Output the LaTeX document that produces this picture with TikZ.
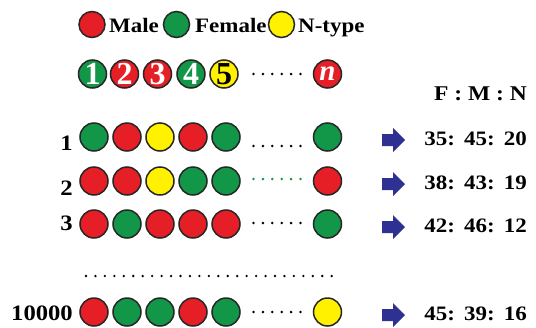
\documentclass[tikz,border=0pt]{standalone}
\usepackage{fontspec}
\setmainfont{Liberation Serif}[FakeStretch=1.12]
\newfontfamily\numfont{Liberation Serif}
\definecolor{mred}{HTML}{E61E25}
\definecolor{mgreen}{HTML}{129647}
\definecolor{myellow}{HTML}{FFF100}
\definecolor{arrowblue}{HTML}{2E3192}
\tikzset{
  ball/.style={circle, draw=black!85, line width=1.5pt, minimum size=28pt, inner sep=0pt},
  R/.style={ball, fill=mred},
  G/.style={ball, fill=mgreen},
  Y/.style={ball, fill=myellow},
  lbl/.style={font=\fontsize{20.5}{20.5}\selectfont\bfseries, inner sep=0pt},
  rowlbl/.style={font=\fontsize{22}{22}\selectfont\bfseries, inner sep=0pt},
  numtxt/.style={font=\numfont\fontsize{32}{32}\selectfont\bfseries},
}
\begin{document}
\begin{tikzpicture}[x=1pt,y=-1pt]
\useasboundingbox (0,0) rectangle (536,327);
% legend
\node[R, minimum size=26pt] (lm) at (92,24.5) {};
\node[lbl, anchor=base west] (tm) at (109,32) {Male};
\node[G, minimum size=26pt] (lf) at (176.5,24.5) {};
\node[lbl, anchor=base west] (tf) at (195,32) {Female};
\node[Y, minimum size=26pt] (ly) at (281.5,24.5) {};
\node[lbl, anchor=base west] (tn) at (298,32) {N-type};
% numbered row
\node[G, numtxt, text=white] (n1) at (92.5,74) {1};
\node[R, numtxt, text=white] (n2) at (124.5,74) {2};
\node[R, numtxt, text=white] (n3) at (157.5,74) {3};
\node[G, numtxt, text=white] (n4) at (191,74) {4};
\node[Y, numtxt, text=black] (n5) at (224,74) {5};
\node[R, numtxt, text=white, font=\numfont\fontsize{29}{29}\selectfont\bfseries\itshape] (nn) at (327.5,74) {n};
\foreach \i in {0,...,5} \fill (253.5+9.4*\i,74) circle (1.4);
% header
\node[lbl, font=\fontsize{21}{21}\selectfont\bfseries, anchor=base east] (hdr) at (527,100) {F\ :\ M\ :\ N};
% rows
\foreach \nm/\y/\cols/\lab/\lb/\dy/\dc/\ratio in {
  r1/137/{G,R,Y,R,G,G}/1/150/146/black/{35:\ \,45:\ \,20},
  r2/181/{R,R,Y,G,G,R}/2/195/179/mgreen/{38:\ \,43:\ \,19},
  r3/224/{R,G,R,R,R,G}/3/230/223/black/{42:\ \,46:\ \,12},
  r4/312/{R,G,G,R,G,Y}/10000/320/312/black/{45:\ \,39:\ \,16}}{
  \foreach \c [count=\k] in \cols {
    \pgfmathsetmacro{\xx}{\k<6 ? 94+33*(\k-1) : 327.5}
    \node[\c] (\nm c\k) at (\xx,\y) {};
  }
  \node[rowlbl, anchor=base east] (\nm l) at (73,\lb) {\lab};
  \foreach \i in {0,...,5} \fill[\dc] (253.5+9.4*\i,\dy) circle (1.4);
  \fill[arrowblue] (382,\y-3) -- (393,\y-3) -- (393,\y-9) -- (405,\y+3) -- (393,\y+15) -- (393,\y+9) -- (382,\y+9) -- cycle;
  \node[lbl, anchor=base east] (\nm r) at (527,\y+8) {\ratio};
}
% long dotted line
\foreach \i in {0,...,26} \fill (86+9.45*\i,276) circle (1.3);
\end{tikzpicture}
\end{document}
